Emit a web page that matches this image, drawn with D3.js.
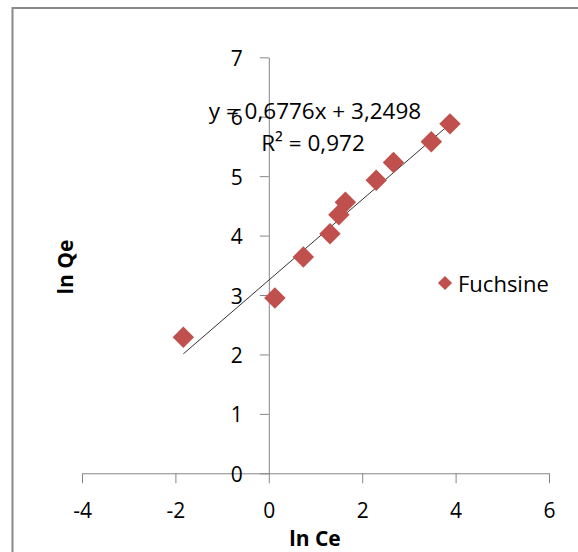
<!DOCTYPE html>
<html>
<head>
<meta charset="utf-8">
<script src="https://cdn.jsdelivr.net/npm/d3@7"></script>
<style>
  html, body { margin: 0; padding: 0; background: #fff; }
  svg { display: block; }
  text { font-family: "Open Sans", "Lato", "DejaVu Sans", sans-serif; fill: #000; }
</style>
</head>
<body>
<svg id="chart" width="578" height="552"></svg>
<script>
// ---- data ----
const lnCe = [-1.83, 0.13, 0.74, 1.31, 1.50, 1.64, 2.30, 2.67, 3.48, 3.88];
const lnQe = [2.29, 2.95, 3.64, 4.03, 4.35, 4.56, 4.93, 5.23, 5.58, 5.88];
const seriesName = "Fuchsine";
const xTicks = [-4, -2, 0, 2, 4, 6];
const yTicks = [0, 1, 2, 3, 4, 5, 6, 7];
const slope = 0.6776;
const intercept = 3.2498;
const equationLabel = "y = 0,6776x + 3,2498";
const r2Label = "R² = 0,972";
const xTitle = "ln Ce";
const yTitle = "ln Qe";

// ---- layout ----
const svg = d3.select("#chart");
const x = d3.scaleLinear().domain([-4, 6]).range([82, 549]);
const y = d3.scaleLinear().domain([0, 7]).range([473.3, 57.3]);
const axisColor = "#868686";
const markColor = "#C0504D";
const fmt = d => String(d);

// outer chart border
svg.append("rect")
  .attr("x", 12.5).attr("y", 8).attr("width", 600).attr("height", 600)
  .attr("fill", "none").attr("stroke", "#898989").attr("stroke-width", 2);

// x axis (at y = 0)
const gx = svg.append("g").attr("transform", `translate(0,${y(0)})`)
  .call(d3.axisBottom(x).tickValues(xTicks).tickSize(10).tickSizeOuter(0).tickFormat(fmt));
// y axis (at x = 0)
const gy = svg.append("g").attr("transform", `translate(${x(0)},0)`)
  .call(d3.axisLeft(y).tickValues(yTicks).tickSize(9).tickSizeOuter(0).tickFormat(fmt));

[gx, gy].forEach(g => {
  g.select(".domain").attr("stroke", axisColor).attr("stroke-width", 1);
  g.selectAll(".tick line").attr("stroke", axisColor).attr("stroke-width", 1);
  g.selectAll(".tick text").attr("font-size", 21).attr("fill", "#000")
    .style("font-family", '"Open Sans", sans-serif');
});
gx.selectAll(".tick text").attr("dy", null).attr("dominant-baseline", "central").attr("y", 37);
gy.selectAll(".tick text").attr("x", -26).attr("dy", null).attr("dominant-baseline", "central");

// trendline
const xMin = d3.min(lnCe), xMax = d3.max(lnCe);
svg.append("line")
  .attr("x1", x(xMin)).attr("y1", y(slope * xMin + intercept))
  .attr("x2", x(xMax)).attr("y2", y(slope * xMax + intercept))
  .attr("stroke", "#333").attr("stroke-width", 1);

// markers
const pts = lnCe.map((v, i) => ({ x: v, y: lnQe[i] }));
svg.append("g").selectAll("path").data(pts).join("path")
  .attr("transform", d => `translate(${x(d.x)},${y(d.y)}) rotate(45)`)
  .attr("d", d3.symbol().type(d3.symbolSquare).size(230)())
  .attr("fill", markColor);

// equation labels
svg.append("text").attr("x", 315).attr("y", 110).attr("text-anchor", "middle")
  .attr("dominant-baseline", "central").attr("font-size", 22.5).text(equationLabel);
svg.append("text").attr("x", 313).attr("y", 142).attr("text-anchor", "middle")
  .attr("dominant-baseline", "central").attr("font-size", 22.5).text(r2Label);

// axis titles
svg.append("text").attr("x", 315).attr("y", 538).attr("text-anchor", "middle")
  .attr("dominant-baseline", "central").attr("font-size", 21).attr("font-weight", "bold").text(xTitle);
svg.append("text").attr("transform", "translate(65,267) rotate(-90)").attr("text-anchor", "middle")
  .attr("dominant-baseline", "central").attr("font-size", 21).attr("font-weight", "bold").text(yTitle);

// legend
const lg = svg.append("g").attr("transform", "translate(445,283)");
lg.append("path").attr("transform", "rotate(45)")
  .attr("d", d3.symbol().type(d3.symbolSquare).size(100)()).attr("fill", markColor);
lg.append("text").attr("x", 13).attr("y", 0).attr("dominant-baseline", "central")
  .attr("font-size", 22).text(seriesName);
</script>
</body>
</html>
